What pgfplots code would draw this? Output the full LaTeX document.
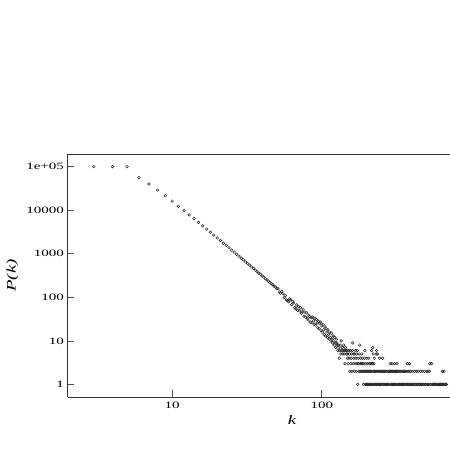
\documentclass[border=0pt]{standalone}
\usepackage{fontspec}
\setmainfont{Liberation Serif}
\usepackage{graphicx}
\usepackage{pgfplots}
\pgfplotsset{compat=1.18}
\newcommand{\sx}[1]{\scalebox{1.55}[1]{#1}}
\begin{document}
\begin{tikzpicture}
\useasboundingbox (-67.5bp,-53bp) rectangle (382.5bp,397bp);
\begin{axis}[
  xmode=log, ymode=log,
  scale only axis, width=449bp, height=243bp,
  xmin=2, xmax=2000, ymin=0.514, ymax=195400,
  axis x line=box, axis y line=left,
  axis line style={-, black!80, line width=0.8bp},
  xtick pos=bottom,
  tick align=inside,
  major tick length=7bp,
  tick style={black!70, line width=0.6bp},
  xminorticks=false, yminorticks=false,
  xtick={10,100}, xticklabels={\sx{10},\sx{100}},
  ytick={1,10,100,1000,10000,100000},
  yticklabels={\sx{1},\sx{10},\sx{100},\sx{1000},\sx{10000},\sx{1e+05}},
  ticklabel style={font=\fontsize{9.7bp}{11bp}\selectfont},
  xticklabel style={yshift=-1.5bp},
  every axis x label/.style={at={(axis description cs:0.5,-0.1152)}, anchor=base},
  every axis y label/.style={at={(axis description cs:-0.1225,0.5)}, anchor=center, rotate=90},
  label style={font=\fontsize{13bp}{15bp}\selectfont},
  xlabel={\scalebox{1.45}[1]{\itshape k}},
  ylabel={\scalebox{1.45}[1]{\itshape P(k)}},
]
\addplot[only marks, mark=o, mark size=1.35bp, black!85, mark options={line width=0.5bp, fill=gray!55}] coordinates {
(3,100000)(4,100000)(5,100000)(6,56000)(7,40000)(8,29000)(9,21500)(10,16200)(11,12300)(12,9800)
(13,7800)(14,6400)(15,5250)(16,4380)(17,3680)(18,3120)(19,2690)(20,2310)(21,2020)(22,1750)
(23,1560)(24,1370)(25,1215)(26,1095)(27,975)(28,880)(29,790)(30,722)(31,650)(32,600)
(33,548)(34,498)(35,461)(36,420)(37,392)(38,358)(39,337)(40,309)(41,291)(42,266)
(43,252)(44,233)(45,222)(46,204)(47,196)(48,180)(49,173)(50,158)
(51,158)(52,133)(53,124)(54,137)(55,121)(56,98)(57,109)(58,87)(59,84)(60,79)
(61,92)(62,88)(63,68)(64,80)(65,75)(66,58)(67,55)(68,67)(69,50)(70,61)
(71,49)(72,58)(73,43)(74,46)(75,52)(76,37)(77,46)(78,35)(79,44)(80,33)
(81,30)(82,39)(83,36)(84,27)(85,34)(86,26)(87,35)(88,29)(89,24)(90,33)
(91,23)(92,31)(93,26)(94,20)(95,28)(96,19)(97,25)(98,27)(99,17)(100,22)
(101,16)(102,24)(103,18)(104,14)(105,21)(106,13)(107,19)(108,16)(109,12)(110,18)
(111,14)(112,11)(113,16)(114,12)(115,10)(116,15)(117,11)(118,9)(119,13)(120,10)
(121,8)(122,12)(123,9)(124,7)(125,11)
(126,9)(127,8)(128,6)(129,8)(130,7)(131,4)(132,6)(133,8)(134,5)(135,10)
(136,6)(137,7)(138,5)(139,6)(140,8)(141,5)(142,6)(143,3)(144,7)(145,6)
(146,5)(147,6)(148,4)(149,5)(150,3)(151,6)(152,4)(153,5)(154,2)(155,6)
(156,3)(157,4)(158,5)(159,2)(160,6)(161,9)(162,3)(163,5)(164,4)(165,2)
(166,5)(167,3)(168,6)(169,4)(170,2)(171,5)(172,3)(173,6)(174,1)(175,4)
(176,3)(177,2)(178,5)(179,8)(180,2)(181,3)(182,4)(183,2)(184,3)(185,5)
(186,2)(187,4)(188,3)(189,2)(190,1)(191,3)(192,2)(193,4)(194,6)(195,2)
(196,1)(197,3)(198,2)(199,1)(200,4)
(201,2)(202,1)(203,3)(204,2)(205,1)(206,4)(207,2)(208,1)(209,3)(210,2)
(211,1)(212,2)(213,3)(214,1)(215,6)(216,2)(217,1)(218,3)(219,7)(220,5)
(221,2)(222,1)(223,3)(224,4)(225,2)(226,1)(227,2)(229,1)(230,2)(231,5)
(232,6)(233,1)(234,2)(235,5)(236,1)(238,2)(240,1)(242,2)(243,4)(244,1)
(246,2)(247,1)(249,2)(250,1)(253,2)(255,4)(256,1)(258,2)(259,1)
(263,2)(268,2)(272,2)(279,2)(284,2)(288,2)(291,2)(296,2)(299,2)(303,2)
(307,2)(312,2)(316,2)(320,2)(327,2)(333,2)(338,2)(344,2)(351,2)(357,2)
(364,2)(372,2)(381,2)(390,2)(402,2)(415,2)(428,2)(440,2)(455,2)(470,2)
(485,2)(502,2)(511,2)(524,2)(640,2)(655,2)
(286,3)(294,3)(306,3)(318,3)(374,3)(386,3)(527,3)(541,3)
(261,1)(265,1)(270,1)(274,1)(277,1)(281,1)(289,1)(293,1)(297,1)(301,1)
(305,1)(309,1)(314,1)(322,1)(325,1)(330,1)(335,1)(340,1)(346,1)(349,1)
(354,1)(360,1)(366,1)(369,1)(376,1)(379,1)(384,1)(393,1)(397,1)(405,1)
(410,1)(419,1)(424,1)(433,1)(437,1)(446,1)(451,1)(460,1)(466,1)(474,1)
(481,1)(490,1)(496,1)(507,1)(517,1)(530,1)(536,1)(549,1)(556,1)(563,1)
(571,1)(579,1)(588,1)(596,1)(605,1)(612,1)(621,1)(628,1)(637,1)(644,1)
(652,1)(666,1)(673,1)(680,1)
};
\end{axis}
\end{tikzpicture}
\end{document}
